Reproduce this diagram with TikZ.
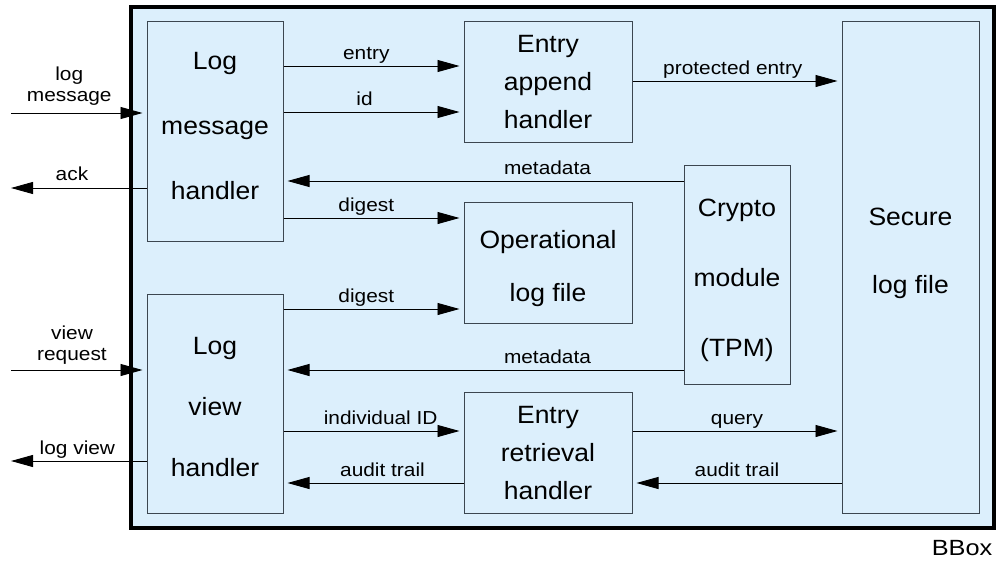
\documentclass[tikz,border=0pt]{standalone}
\usepackage{fontspec}
\setmainfont{Liberation Sans}
\newfontfamily\boxfont[FakeStretch=1.06]{Liberation Sans}
\newfontfamily\lblfont[FakeStretch=1.11]{Liberation Sans}
\newfontfamily\capfont[FakeStretch=1.15]{Liberation Sans}
\usetikzlibrary{arrows.meta}

\definecolor{bgblue}{HTML}{DCEFFC}
\definecolor{boxgray}{HTML}{3C4650}

\begin{document}
\begin{tikzpicture}[x=1pt,y=-1pt,
  blk/.style={draw=boxgray, fill=bgblue, line width=1pt, inner sep=0pt},
  bt/.style={font=\boxfont\fontsize{25}{#1}\selectfont, align=center, inner sep=0pt},
  arr/.style={-{Triangle[length=22pt,width=12pt]}, line width=0.9pt, shorten >=4pt},
  lbl/.style={font=\lblfont\fontsize{18.8}{21.5}\selectfont, anchor=base, yshift=7pt, inner sep=0pt},
  lbltwo/.style={font=\lblfont\fontsize{18.8}{21.5}\selectfont, anchor=south, align=center, inner sep=0pt}]
\useasboundingbox (0,0) rectangle (999,562);

% enclosing black box
\node[draw=black, fill=bgblue, line width=4pt, minimum width=863pt, minimum height=521pt, inner sep=0pt] (outer) at (562.5,267.5) {};

% component boxes
\node[blk, minimum width=136pt, minimum height=220pt] (lmh) at (215,131) {};
\node[blk, minimum width=136pt, minimum height=219pt] (lvh) at (215,403.5) {};
\node[blk, minimum width=168pt, minimum height=121pt] (eah) at (548,81.5) {};
\node[blk, minimum width=168pt, minimum height=121pt] (olf) at (548,262.5) {};
\node[blk, minimum width=168pt, minimum height=121pt] (erh) at (548,452.5) {};
\node[blk, minimum width=106pt, minimum height=219pt] (cm) at (737,274.5) {};
\node[blk, minimum width=137pt, minimum height=492pt] (slf) at (910.5,267) {};

% component names
\node[bt=65] (lmh-t) at (215,126) {Log\\message\\handler};
\node[bt=61] (lvh-t) at (215,407.5) {Log\\view\\handler};
\node[bt=38] (eah-t) at (548,82) {Entry\\append\\handler};
\node[bt=53] (olf-t) at (548,268.5) {Operational\\log file};
\node[bt=38] (erh-t) at (548,453) {Entry\\retrieval\\handler};
\node[bt=70] (cm-t) at (737,280) {Crypto\\module\\(TPM)};
\node[bt=68] (slf-t) at (910.5,253) {Secure\\log file};

% external ends
\coordinate (inlm) at (11,113);
\coordinate (outack) at (11,188);
\coordinate (invr) at (11,370);
\coordinate (outlv) at (11,461);

% inputs and outputs
\draw[arr] (inlm) -- (lmh.west |- inlm) node[lbltwo, pos=.43, yshift=7pt] {log\\message};
\draw[arr, shorten >=0pt] (lmh.west |- outack) -- (outack) node[lbl, pos=.55, yshift=1pt] {ack};
\draw[arr] (invr) -- (lvh.west |- invr) node[lbltwo, pos=.45, yshift=5pt] {view\\request};
\draw[arr, shorten >=0pt] (lvh.west |- outlv) -- (outlv) node[lbl, pos=.51] {log view};

% message handler flows
\draw[arr] (lmh.east |- 0,66) -- (eah.west |- 0,66) node[lbl, pos=.46] {entry};
\draw[arr] (lmh.east |- 0,112) -- (eah.west |- 0,112) node[lbl, pos=.45] {id};
\draw[arr] (eah.east |- 0,81) -- (slf.west |- 0,81) node[lbl, pos=.48] {protected entry};
\draw[arr] (cm.west |- 0,181) -- (lmh.east |- 0,181) node[lbl, pos=.34] {metadata};
\draw[arr] (lmh.east |- 0,218) -- (olf.west |- 0,218) node[lbl, pos=.46] {digest};

% view handler flows
\draw[arr] (lvh.east |- 0,309) -- (olf.west |- 0,309) node[lbl, pos=.46] {digest};
\draw[arr] (cm.west |- 0,370) -- (lvh.east |- 0,370) node[lbl, pos=.34] {metadata};
\draw[arr] (lvh.east |- 0,431) -- (erh.west |- 0,431) node[lbl, pos=.54] {individual ID};
\draw[arr] (erh.west |- 0,483) -- (lvh.east |- 0,483) node[lbl, pos=.45] {audit trail};
\draw[arr] (erh.east |- 0,431) -- (slf.west |- 0,431) node[lbl, pos=.5] {query};
\draw[arr] (slf.west |- 0,483) -- (erh.east |- 0,483) node[lbl, pos=.5] {audit trail};

\node[font=\capfont\fontsize{22}{26}\selectfont, inner sep=0pt] (bboxlbl) at (962,548) {BBox};
\end{tikzpicture}
\end{document}
